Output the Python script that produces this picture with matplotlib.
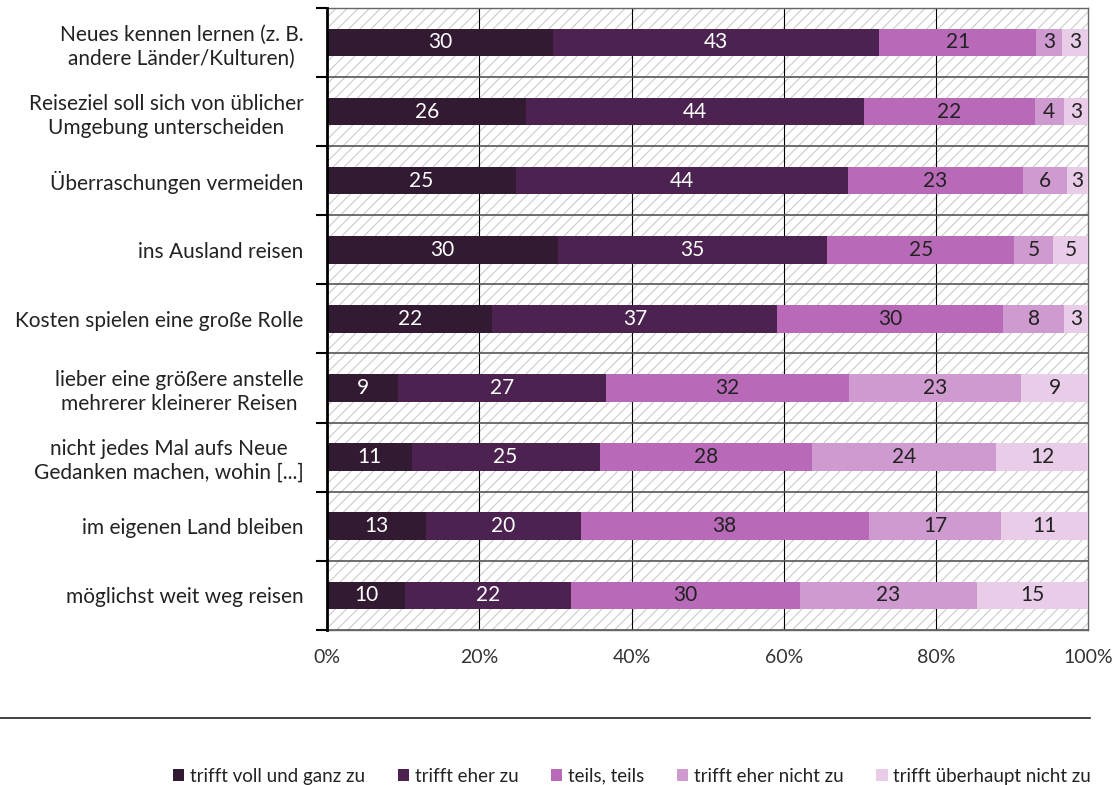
import numpy as np
import matplotlib.pyplot as plt
from matplotlib.patches import Rectangle
from matplotlib.lines import Line2D

plt.rcParams['font.family'] = ['Lato', 'DejaVu Sans']
plt.rcParams['hatch.linewidth'] = 0.7

# Categories top to bottom
categories = [
    "Neues kennen lernen (z. B.\nandere Länder/Kulturen)",
    "Reiseziel soll sich von üblicher\nUmgebung unterscheiden",
    "Überraschungen vermeiden",
    "ins Ausland reisen",
    "Kosten spielen eine große Rolle",
    "lieber eine größere anstelle\nmehrerer kleinerer Reisen",
    "nicht jedes Mal aufs Neue\nGedanken machen, wohin [...]",
    "im eigenen Land bleiben",
    "möglichst weit weg reisen",
]
series_names = ["trifft voll und ganz zu", "trifft eher zu", "teils, teils",
                "trifft eher nicht zu", "trifft überhaupt nicht zu"]
# percentages (labels are rounded)
voll = [29.7, 26.1, 24.8, 30.4, 21.7, 9.3, 11.1, 13.0, 10.2]
eher = [42.8, 44.3, 43.6, 35.4, 37.4, 27.4, 24.7, 20.3, 21.8]
teils = [20.6, 22.4, 23.0, 24.6, 29.7, 32.0, 27.9, 37.9, 30.1]
eher_nicht = [3.4, 3.8, 5.8, 5.1, 8.0, 22.6, 24.2, 17.4, 23.3]
gar_nicht = [3.4, 3.2, 2.8, 4.6, 3.1, 8.8, 12.1, 11.4, 14.6]
x_ticks = [0, 20, 40, 60, 80, 100]

colors = ["#331a33", "#4b2250", "#b86ab8", "#cf9acf", "#e8cce8"]
text_colors = ["white", "white", "#222222", "#222222", "#222222"]

data = np.array([voll, eher, teils, eher_nicht, gar_nicht], dtype=float)
share = data / data.sum(axis=0) * 100  # 100% stacked

fig = plt.figure(figsize=(11.13, 7.85), dpi=100)
ax = fig.add_axes([0.294, 0.1975, 0.6835, 0.7925])

n = len(categories)
y = np.arange(n)[::-1]

# hatched background
ax.add_patch(Rectangle((0, 0), 1, 1, transform=ax.transAxes, facecolor="white",
                       edgecolor="#c4c4c4", hatch="///", lw=0, zorder=0))

left = np.zeros(n)
for i in range(5):
    ax.barh(y, share[i], left=left, height=0.4, color=colors[i],
            label=series_names[i], zorder=3)
    for j in range(n):
        ax.text(left[j] + share[i][j] / 2, y[j], str(int(round(data[i][j]))),
                ha="center", va="center", color=text_colors[i], fontsize=15,
                zorder=4)
    left += share[i]

ax.set_xlim(0, 100)
ax.set_ylim(-0.5, n - 0.5)
ax.set_xticks(x_ticks)
ax.set_xticklabels([f"{t}%" for t in x_ticks], fontsize=14, color="#333333")
ax.tick_params(axis="x", length=0, pad=14)
ax.set_yticks(y)
ax.set_yticklabels(categories, fontsize=15, color="#222222",
                   multialignment="center", linespacing=1.25)
ax.set_yticks(np.arange(n + 1) - 0.5, minor=True)
ax.tick_params(axis="y", which="major", length=0, pad=17)
ax.tick_params(axis="y", which="minor", length=8, width=1.5, color="black")

for xv in x_ticks[1:-1]:
    ax.axvline(xv, color="black", lw=0.8, zorder=1)
for yv in np.arange(n + 1) - 0.5:
    ax.axhline(yv, color="#555555", lw=1.2, zorder=1)

for s in ["top", "right", "bottom"]:
    ax.spines[s].set_color("#666666")
    ax.spines[s].set_linewidth(1)
ax.spines["left"].set_color("black")
ax.spines["left"].set_linewidth(2)
ax.spines["left"].set_zorder(5)

fig.add_artist(Line2D([0, 0.979], [0.085, 0.085], transform=fig.transFigure,
                      color="#222222", lw=1.2))

fig.legend(loc="center", bbox_to_anchor=(0.568, 0.011), ncol=5, frameon=False,
           fontsize=13.5, handlelength=0.6, handleheight=0.6, handletextpad=0.3,
           columnspacing=1.75, labelcolor="#222222")

fig.savefig("out.png", dpi=100)
